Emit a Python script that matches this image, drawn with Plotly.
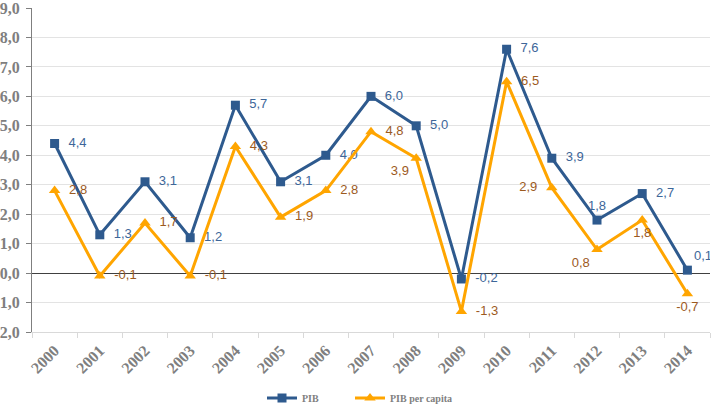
import plotly.graph_objects as go

years = [str(y) for y in range(2000, 2015)]
pib = [4.4, 1.3, 3.1, 1.2, 5.7, 3.1, 4.0, 6.0, 5.0, -0.2, 7.6, 3.9, 1.8, 2.7, 0.1]
pib_pc = [2.8, -0.1, 1.7, -0.1, 4.3, 1.9, 2.8, 4.8, 3.9, -1.3, 6.5, 2.9, 0.8, 1.8, -0.7]
y_tickvals = [9, 8, 7, 6, 5, 4, 3, 2, 1, 0, -1, -2]
y_ticktext = ["9,0", "8,0", "7,0", "6,0", "5,0", "4,0", "3,0", "2,0", "1,0", "0,0", "1,0", "2,0"]

pos_pib = ["middle right"] * 15
pos_pib[12] = "top center"
pos_pib[14] = "top right"
pos_pc = ["middle right"] * 15
pos_pc[8] = "bottom left"
pos_pc[11] = "middle left"
pos_pc[12] = "bottom left"
pos_pc[13] = "bottom center"
pos_pc[14] = "bottom center"


def templates(positions):
    out = []
    for p in positions:
        if p.endswith("right"):
            out.append("  %{y:.1f}" if p.startswith("middle") else "%{y:.1f}")
        elif p.endswith("left"):
            out.append("%{y:.1f}  " if p.startswith("middle") else "%{y:.1f}")
        else:
            out.append("%{y:.1f}")
    return out


label_font = "Liberation Sans, Arial, sans-serif"
serif = "Liberation Serif, Times New Roman, serif"

fig = go.Figure()
fig.add_trace(go.Scatter(
    x=years, y=pib, name="PIB", mode="lines+markers+text", legend="legend",
    line=dict(color="#2E5A8E", width=3),
    marker=dict(symbol="square", size=9, color="#2E5A8E"),
    texttemplate=templates(pos_pib), textposition=pos_pib,
    textfont=dict(family=label_font, size=13, color="#3D6699"),
))
fig.add_trace(go.Scatter(
    x=years, y=pib_pc, name="PIB per capita", mode="lines+markers+text", legend="legend2",
    line=dict(color="#FFA500", width=3),
    marker=dict(symbol="triangle-up", size=10, color="#FFA500"),
    texttemplate=templates(pos_pc), textposition=pos_pc,
    textfont=dict(family=label_font, size=13, color="#9C5A1E"),
))

legend_common = dict(orientation="h", xanchor="left", xref="container",
                     y=0.022, yanchor="middle", yref="container",
                     font=dict(family=serif, size=10, color="#7f7f7f", weight="bold"),
                     itemwidth=30, bgcolor="rgba(0,0,0,0)")

fig.update_layout(
    width=714, height=407,
    margin=dict(l=32, r=4, t=8, b=75),
    plot_bgcolor="white", paper_bgcolor="white",
    separators=",.",
    showlegend=True,
    legend=dict(x=262 / 714, **legend_common),
    legend2=dict(x=350 / 714, **legend_common),
    xaxis=dict(type="category", range=[-0.5, 14.5], showgrid=False, automargin=False,
               showline=True, linecolor="#d9d9d9", linewidth=1,
               ticks="outside", tickson="boundaries", ticklen=5, tickcolor="#d9d9d9",
               tickangle=-45, ticklabelstandoff=2,
               tickfont=dict(family=serif, size=16, color="#7f7f7f", weight="bold")),
    yaxis=dict(range=[-2, 9], tickvals=y_tickvals, ticktext=y_ticktext, automargin=False,
               ticklabeloverflow="allow", ticklabelstandoff=3,
               showgrid=True, gridcolor="#e3e3e3", gridwidth=1,
               showline=True, linecolor="#7f7f7f", linewidth=1,
               ticks="outside", ticklen=5, tickcolor="#7f7f7f",
               zeroline=True, zerolinecolor="#404040", zerolinewidth=1,
               tickfont=dict(family=serif, size=16, color="#7f7f7f", weight="bold")),
)

fig.write_html("out.html")
